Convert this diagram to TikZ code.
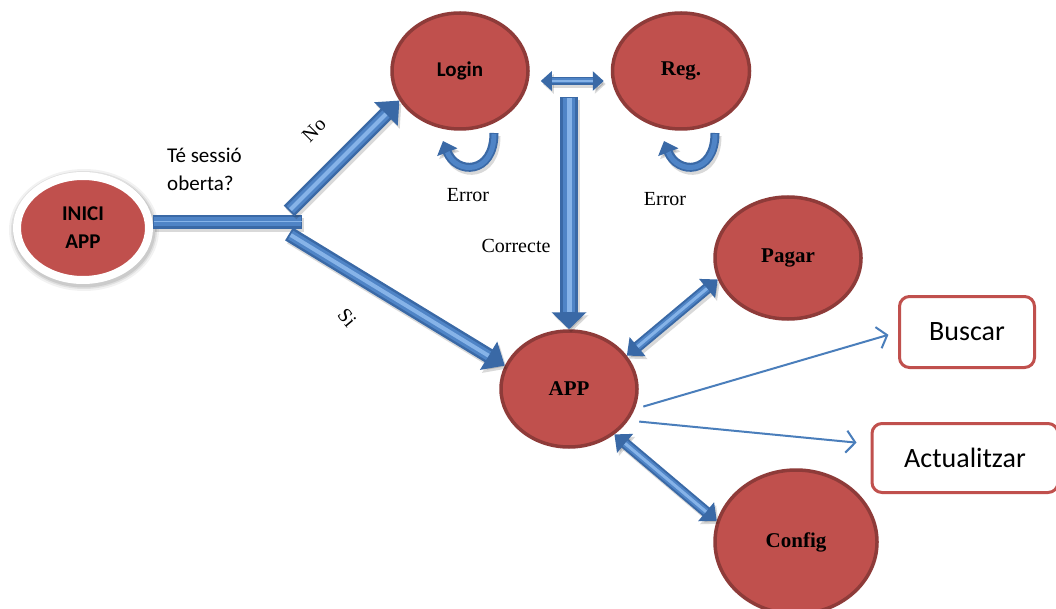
\documentclass[tikz,border=0pt]{standalone}
\usepackage{fontspec}
\setmainfont{Liberation Serif}
\newfontfamily\calibri{Carlito}
\usetikzlibrary{arrows.meta,shapes.geometric,calc}

\definecolor{nodered}{HTML}{C0504D}
\definecolor{nodeedge}{HTML}{8E3B39}
\definecolor{arrowdark}{HTML}{3A69A6}
\definecolor{arrowblue}{HTML}{4F84C6}
\definecolor{arrowlight}{HTML}{86B3E8}
\definecolor{thinblue}{HTML}{4A7EBB}

% 3D-looking block arrow: shadow, dark body, lighter core, light stripe
% #1 shaft width, #2 tips, #3 start, #4 end, #5 core width, #6 stripe width, #7 core shortening
\newcommand{\blockarrow}[7]{%
  \draw[arrowshadow, line width=#1, #2] #3 -- #4;
  \draw[arrowbody, line width=#1, #2] #3 -- #4;
  \draw[arrowcore, line width=#5, #7] #3 -- #4;
  \draw[arrowshine, line width=#6, #7] #3 -- #4;
}

% curved "Error" arrow under a node, returning to it
\newcommand{\errorloop}[1]{%
  \draw[arrowshadow, line width=9pt, -{Triangle[width=21pt,length=12pt]}]
    ($(#1)+(34,62)$) .. controls ($(#1)+(34,104)$) and ($(#1)+(-4,104)$) .. ($(#1)+(-17,70)$);
  \draw[arrowbody, line width=9pt, -{Triangle[width=21pt,length=12pt]}]
    ($(#1)+(34,62)$) .. controls ($(#1)+(34,104)$) and ($(#1)+(-4,104)$) .. ($(#1)+(-17,70)$);
  \draw[arrowcore, line width=5pt, shorten <=1pt, shorten >=12pt]
    ($(#1)+(34,62)$) .. controls ($(#1)+(34,104)$) and ($(#1)+(-4,104)$) .. ($(#1)+(-17,70)$);
}

\begin{document}
\begin{tikzpicture}[x=1pt,y=-1pt,
  state/.style={ellipse, fill=nodered, draw=nodeedge, line width=3.5pt, inner sep=0pt,
    font=\fontsize{21}{25}\selectfont\bfseries},
  calistate/.style={state, font=\calibri\fontsize{21}{25}\selectfont\bfseries},
  startstate/.style={ellipse, fill=nodered, draw=white, line width=8pt, inner sep=0pt,
    align=center, font=\calibri\fontsize{21}{28}\selectfont\bfseries},
  optionbox/.style={rectangle, rounded corners=10pt, draw=nodered, line width=3pt, fill=white,
    inner sep=0pt, font=\calibri\fontsize{28}{32}\selectfont},
  lbl/.style={inner sep=0pt, font=\fontsize{20}{24}\selectfont},
  calilbl/.style={inner sep=0pt, align=left, font=\calibri\fontsize{21}{28}\selectfont},
  arrowshadow/.style={draw=black, opacity=0.15, transform canvas={shift={(2pt,-3pt)}}},
  arrowbody/.style={draw=arrowdark},
  arrowcore/.style={draw=arrowblue},
  arrowshine/.style={draw=arrowlight},
  thinarrow/.style={draw=thinblue, line width=2pt, -{Straight Barb[length=9pt,width=22pt,line width=2pt]}}
]
\useasboundingbox (0,0) rectangle (1056,609);
\fill[white] (0,0) rectangle (1056,609);

% soft shadow around the start node
\foreach \r/\o in {5/0.05,3/0.07,1.5/0.09}
  \fill[black, opacity=\o] (84,230) ellipse [x radius=70pt+\r pt, y radius=56pt+\r pt];

% nodes
\node[startstate, minimum width=132pt, minimum height=104pt] (inici) at (83,228) {INICI\\APP};
\node[calistate, minimum width=136pt, minimum height=116pt] (login) at (460,71) {Login};
\node[state, minimum width=137pt, minimum height=116pt] (reg) at (681,71) {Reg.};
\node[state, minimum width=136pt, minimum height=116pt] (app) at (569,389) {APP};
\node[state, minimum width=146pt, minimum height=122pt] (pagar) at (788,258) {Pagar};
\node[state, minimum width=162pt, minimum height=144pt] (config) at (796,542) {Config};
\node[optionbox, minimum width=135pt, minimum height=71pt] (buscar) at (967,332) {Buscar};
\node[optionbox, minimum width=186pt, minimum height=69pt] (act) at (965,458) {Actualitzar};

% branch points of the start bar
\coordinate (fork) at (302,222);
\coordinate (noTail) at (289,211);
\coordinate (siTail) at (289,234);
\coordinate (corrTop) at (569,97);

% start bar and the two branches
\blockarrow{14pt}{}{([yshift=6pt]inici.east)}{(fork)}{9pt}{0pt}{shorten <=1pt, shorten >=1pt}
\blockarrow{15pt}{-{Triangle[width=32pt,length=19pt]}}{(noTail)}{(login.206)}{10pt}{4pt}{shorten <=2pt, shorten >=19pt}
\blockarrow{15pt}{-{Triangle[width=32pt,length=19pt]}}{(siTail)}{(app.160)}{10pt}{4pt}{shorten <=2pt, shorten >=19pt}

% Login <-> Reg
\blockarrow{8pt}{{Triangle[width=19pt,length=11pt]}-{Triangle[width=19pt,length=11pt]}}
  {([xshift=11pt,yshift=-10pt]login.east)}{([xshift=-7pt,yshift=-10pt]reg.west)}{5pt}{2pt}{shorten <=11pt, shorten >=11pt}

% Correcte: down to APP
\blockarrow{18pt}{-{Triangle[width=34pt,length=17pt]}}{(corrTop)}{(app.north)}{12pt}{5pt}{shorten <=1pt, shorten >=17pt}

% APP <-> Pagar, APP <-> Config
\blockarrow{11pt}{{Triangle[width=24pt,length=14pt]}-{Triangle[width=24pt,length=14pt]}}
  {(app.30)}{(pagar.197)}{7pt}{3pt}{shorten <=14pt, shorten >=14pt}
\blockarrow{11pt}{{Triangle[width=24pt,length=14pt]}-{Triangle[width=24pt,length=14pt]}}
  {(app.-45)}{(config.165)}{7pt}{3pt}{shorten <=14pt, shorten >=14pt}

% error loops
\errorloop{login}
\errorloop{reg}

% thin arrows to the options
\draw[thinarrow, shorten <=9pt, shorten >=10pt] (app.-17) -- (buscar.west);
\draw[thinarrow, shorten <=11pt, shorten >=14pt] (app.-28) -- ([yshift=14pt]act.west);

% labels
\node[calilbl, anchor=west] (pregunta) at (167,169) {Té sessió\\oberta?};
\node[lbl, rotate=45] (no) at (314,130) {No};
\node[lbl, rotate=-50] (si) at (347,318) {Si};
\node[lbl] (err1) at (468,195) {Error};
\node[lbl] (err2) at (665,199) {Error};
\node[lbl] (corr) at (516,246) {Correcte};
\end{tikzpicture}
\end{document}
